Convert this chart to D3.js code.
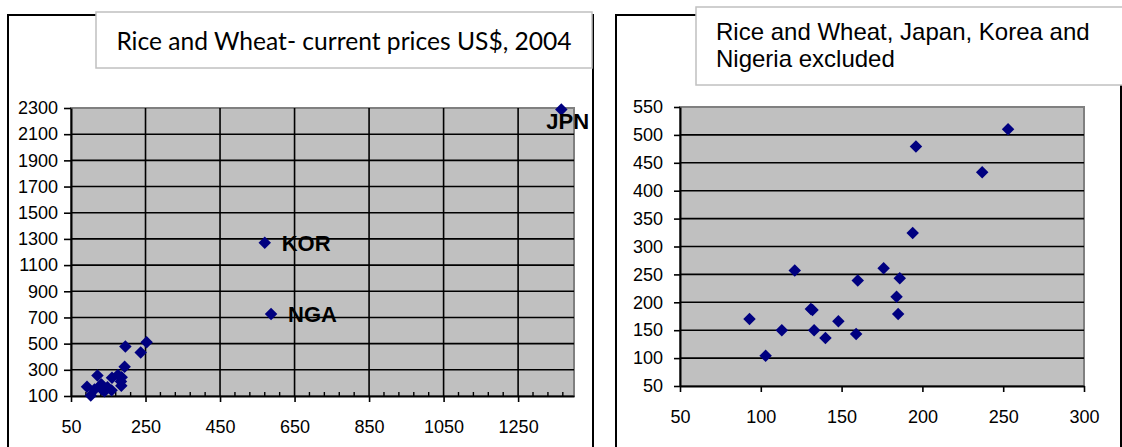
<!DOCTYPE html>
<html>
<head>
<meta charset="utf-8">
<script src="https://cdn.jsdelivr.net/npm/d3@7"></script>
<style>
  body{margin:0;background:#fff;}
  text{font-family:"Liberation Sans",Arial,sans-serif;}
</style>
</head>
<body>
<script>
// values
const pointX=[93,103,113,131,132,133,140,148,159,184,185,121,160,176,186,194,196,237,253];
const pointY=[170,104,150,188,186,150,136,166,143,210,179,257,239,261,243,324,479,433,510];
const outlierCodes=['JPN','KOR','NGA'];
const outlierX=[1366,570,587];
const outlierY=[2288,1270,727];

const leftXTicks=[50,250,450,650,850,1050,1250];
const leftYTicks=[100,300,500,700,900,1100,1300,1500,1700,1900,2100,2300];
const rightXTicks=[50,100,150,200,250,300];
const rightYTicks=[50,100,150,200,250,300,350,400,450,500,550];

const leftTitle=['Rice and Wheat- current prices US$, 2004'];
const rightTitle=['Rice and Wheat, Japan, Korea and','Nigeria excluded'];

const svg=d3.select('body').append('svg')
   .attr('width',1122)
   .attr('height',447);

const navy='#000080';

function panel(o){
  const g=svg.append('g');
  // outer chart frame
  g.append('rect')
    .attr('x',o.frame[0]).attr('y',o.frame[1])
    .attr('width',o.frame[2]-o.frame[0]).attr('height',o.frame[3]-o.frame[1])
    .attr('fill','#fff').attr('stroke','#000').attr('stroke-width',2);

  const x=d3.scaleLinear().domain(o.xDomain).range([o.plot[0],o.plot[1]]);
  const y=d3.scaleLinear().domain(o.yDomain).range([o.plot[3],o.plot[2]]);

  // plot area
  g.append('rect')
    .attr('x',o.plot[0]).attr('y',o.plot[2])
    .attr('width',o.plot[1]-o.plot[0]).attr('height',o.plot[3]-o.plot[2])
    .attr('fill','#c0c0c0').attr('stroke','#808080').attr('stroke-width',2);

  g.selectAll('.hgrid').data(o.yTicks.slice(1,-1)).enter().append('line')
    .attr('x1',o.plot[0]).attr('x2',o.plot[1])
    .attr('y1',d=>y(d)).attr('y2',d=>y(d))
    .attr('stroke','#000').attr('stroke-width',1.6);
  if(o.vgrid){
    g.selectAll('.vgrid').data(o.xTicks.slice(1)).enter().append('line')
      .attr('x1',d=>x(d)).attr('x2',d=>x(d))
      .attr('y1',o.plot[2]).attr('y2',o.plot[3])
      .attr('stroke','#000').attr('stroke-width',1.6);
  }
  if(o.minor){
    const minors=d3.range(o.xDomain[0],o.xDomain[1],o.minor).filter(v=>!o.xTicks.includes(v));
    g.selectAll('.minor').data(minors).enter().append('line')
      .attr('x1',d=>x(d)).attr('x2',d=>x(d))
      .attr('y1',o.plot[3]).attr('y2',o.plot[3]-4)
      .attr('stroke','#000').attr('stroke-width',1.4);
  }

  const fmt=d3.format('d');
  const xAxis=g.append('g')
    .attr('transform',`translate(0,${o.plot[3]})`)
    .call(d3.axisBottom(x).tickValues(o.xTicks).tickFormat(fmt).tickSize(6).tickSizeOuter(0).tickPadding(o.xPad));
  const yAxis=g.append('g')
    .attr('transform',`translate(${o.plot[0]},0)`)
    .call(d3.axisLeft(y).tickValues(o.yTicks).tickFormat(fmt).tickSize(o.yTick).tickSizeOuter(0).tickPadding(o.yPad));
  [xAxis,yAxis].forEach(a=>{
    a.select('.domain').attr('stroke','#000').attr('stroke-width',2);
    a.selectAll('.tick line').attr('stroke','#000').attr('stroke-width',1.6);
    a.selectAll('.tick text')
      .attr('fill','#000')
      .style('font-size','18px')
      .style('font-family','"Liberation Sans",Arial,sans-serif');
  });

  // markers
  const diamond=d3.symbol(d3.symbolSquare,78);
  g.selectAll('.pt').data(o.points).enter().append('path')
    .attr('d',diamond)
    .attr('transform',d=>`translate(${x(d.x)},${y(d.y)}) rotate(45)`)
    .attr('fill',navy);

  g.selectAll('.lbl').data(o.points.filter(d=>d.code)).enter().append('text')
    .attr('x',d=>x(d.x)+(o.shift[d.code]||[17,0])[0])
    .attr('y',d=>y(d.y)+(o.shift[d.code]||[17,0])[1])
    .attr('dy','0.36em')
    .style('font-size','22px')
    .style('font-weight','bold')
    .text(d=>d.code);

  // title box
  g.append('rect')
    .attr('x',o.tbox[0]).attr('y',o.tbox[1])
    .attr('width',o.tbox[2]-o.tbox[0]).attr('height',o.tbox[3]-o.tbox[1])
    .attr('fill','#fff').attr('stroke','#c0c0c0').attr('stroke-width',1.5);
  g.selectAll('.ttl').data(o.title).enter().append('text')
    .attr('x',o.tx)
    .attr('y',(d,i)=>o.ty+i*27)
    .attr('text-anchor',o.tanchor)
    .style('font-family',o.tfont)
    .style('font-size',o.tsize)
    .attr('fill','#000')
    .text(d=>d);
}

const cluster=pointX.map((v,i)=>({x:v,y:pointY[i]}));
const outliers=outlierCodes.map((c,i)=>({x:outlierX[i],y:outlierY[i],code:c}));

panel({
  frame:[8,15,593,470],
  plot:[71,574,108,396],
  xDomain:[50,1400], yDomain:[100,2300],
  xTicks:leftXTicks, yTicks:leftYTicks,
  vgrid:true, minor:40,
  xPad:18, yTick:7, yPad:6,
  points:cluster.concat(outliers),
  shift:{JPN:[-15,12]},
  tbox:[96,12,592,68],
  title:leftTitle, tx:344, ty:50, tanchor:'middle',
  tfont:'Lato, "Open Sans", sans-serif', tsize:'24.6px'
});

panel({
  frame:[616,15,1121,470],
  plot:[680,1084,107,386],
  xDomain:[50,300], yDomain:[50,550],
  xTicks:rightXTicks, yTicks:rightYTicks,
  vgrid:false, minor:0,
  xPad:18, yTick:6, yPad:11,
  points:cluster,
  shift:{},
  tbox:[696,7,1130,85],
  title:rightTitle, tx:716, ty:40, tanchor:'start',
  tfont:'"Liberation Sans", Arial, sans-serif', tsize:'24px'
});
</script>
</body>
</html>
